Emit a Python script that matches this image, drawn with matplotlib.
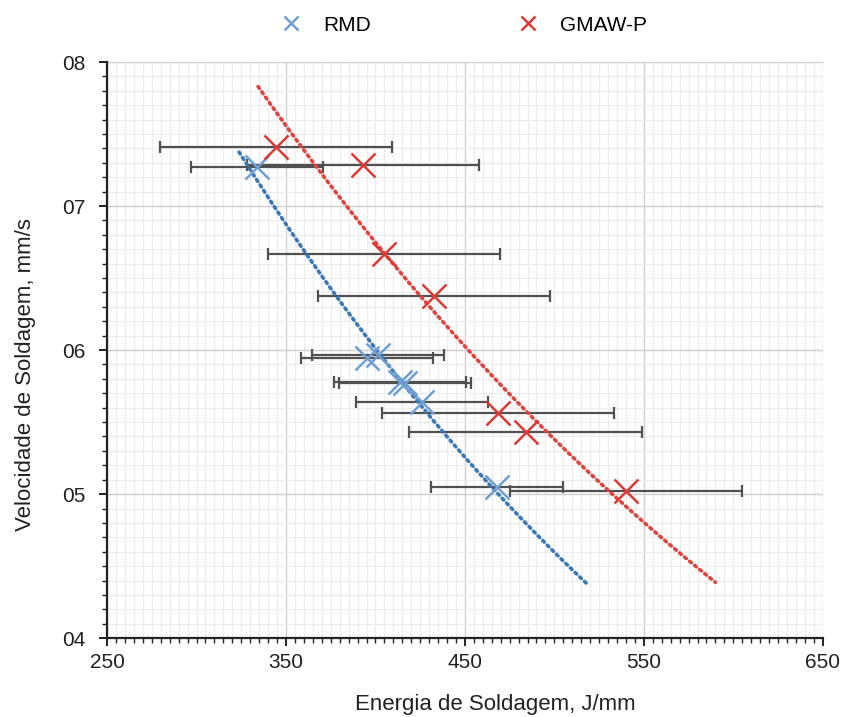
import numpy as np
import matplotlib
matplotlib.use("Agg")
import matplotlib.pyplot as plt
from matplotlib.ticker import MultipleLocator, FuncFormatter

plt.rcParams['font.family'] = ['Liberation Sans', 'DejaVu Sans']

# Data
rmd_energy = [333.8, 395.3, 401.4, 413.7, 416.5, 426.0, 467.9]
rmd_speed = [7.27, 5.944, 5.965, 5.78, 5.77, 5.64, 5.05]
rmd_err = [37, 37, 37, 37, 37, 37, 37]

gmaw_energy = [344.4, 393.0, 404.7, 432.7, 468.4, 484.0, 540.0]
gmaw_speed = [7.41, 7.285, 6.67, 6.375, 5.56, 5.43, 5.02]
gmaw_err = [65, 65, 65, 65, 65, 65, 65]

series_names = ["RMD", "GMAW-P"]
x_ticks = [250, 350, 450, 550, 650]
y_ticks = [4, 5, 6, 7, 8]

fig = plt.figure(figsize=(8.43, 7.17), dpi=100)
ax = fig.add_axes([0.127, 0.110, 0.849, 0.8035])

blue = '#6f9fd2'
red = '#dc3a35'
blue_line = '#3a78b8'
red_line = '#e0443e'

def exp_trend(x, y, back=10, fwd=50):
    x = np.asarray(x); y = np.asarray(y)
    b, a = np.polyfit(x, np.log(y), 1)
    xs = np.linspace(x.min() - back, x.max() + fwd, 200)
    return xs, np.exp(a + b * xs)

for xe, ye, err, c, lc, name, z in [
    (rmd_energy, rmd_speed, rmd_err, blue, blue_line, series_names[0], 4),
    (gmaw_energy, gmaw_speed, gmaw_err, red, red_line, series_names[1], 5)]:
    ax.errorbar(xe, ye, xerr=err, fmt='none', ecolor='#505050', elinewidth=1.6,
                capsize=4, capthick=1.6, zorder=3)
    xs, ys = exp_trend(xe, ye)
    ax.plot(xs, ys, linestyle=(0, (0.6, 1.2)), color=lc, linewidth=2.6, zorder=z,
            dash_capstyle='round')
    ax.plot(xe, ye, linestyle='none', marker='x', markersize=17, markeredgewidth=1.8,
            color=c, label=name, zorder=6)

ax.set_xlim(250, 650)
ax.set_ylim(4, 8)
ax.set_xticks(x_ticks)
ax.set_yticks(y_ticks)
ax.xaxis.set_minor_locator(MultipleLocator(5))
ax.yaxis.set_minor_locator(MultipleLocator(0.1))
ax.yaxis.set_major_formatter(FuncFormatter(lambda v, p: '%02d' % int(round(v))))

ax.grid(which='major', color='#cfcfcf', linewidth=1.0, zorder=0)
ax.grid(which='minor', color='#ececec', linewidth=0.8, zorder=0)
ax.set_axisbelow(True)

for s in ['top', 'right']:
    ax.spines[s].set_visible(False)
for s in ['left', 'bottom']:
    ax.spines[s].set_linewidth(1.6)
    ax.spines[s].set_color('#222222')

ax.tick_params(which='major', direction='out', length=5.8, width=1.4, labelsize=15, colors='#222222')
ax.tick_params(which='minor', direction='out', length=3.6, width=1.0, colors='#222222')
ax.tick_params(axis='x', which='major', pad=5)
ax.tick_params(axis='y', which='major', pad=9.4)

ax.set_xlabel('Energia de Soldagem, J/mm', fontsize=16, color='#222222')
ax.set_ylabel('Velocidade de Soldagem, mm/s', fontsize=16, color='#222222')
ax.xaxis.set_label_coords(0.542, -0.097)
ax.yaxis.set_label_coords(-0.099, 0.458)

leg = ax.legend(loc='center', bbox_to_anchor=(0.4985, 1.064), ncol=2, frameon=False,
                fontsize=15, markerscale=0.6, handlelength=1.0, handletextpad=1.04,
                columnspacing=7.06, borderpad=0.2)

fig.savefig('out.png', dpi=100)
